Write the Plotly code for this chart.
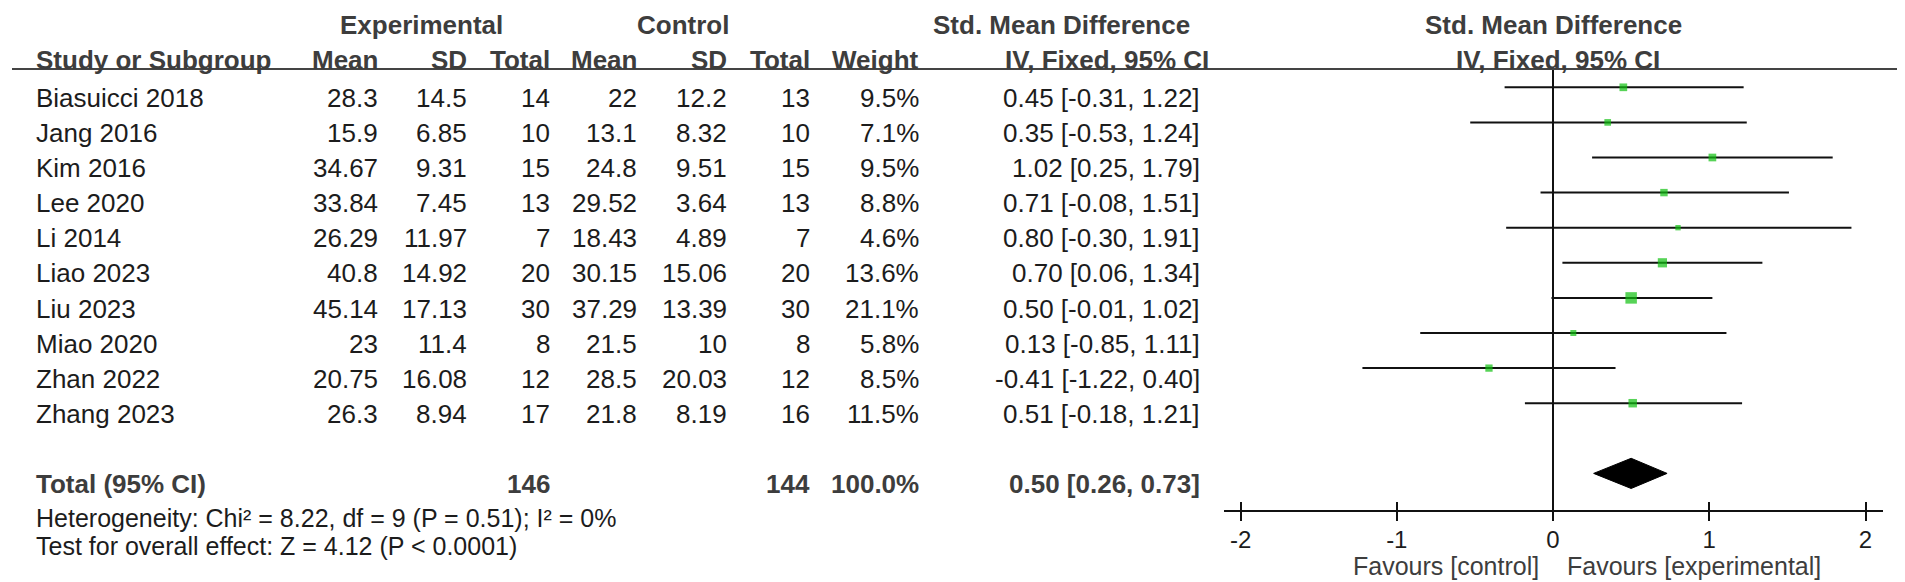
import plotly.graph_objects as go

W, H = 1905, 582

studies = ["Biasuicci 2018", "Jang 2016", "Kim 2016", "Lee 2020", "Li 2014",
           "Liao 2023", "Liu 2023", "Miao 2020", "Zhan 2022", "Zhang 2023"]
exp_mean = [28.3, 15.9, 34.67, 33.84, 26.29, 40.8, 45.14, 23, 20.75, 26.3]
exp_sd = [14.5, 6.85, 9.31, 7.45, 11.97, 14.92, 17.13, 11.4, 16.08, 8.94]
exp_n = [14, 10, 15, 13, 7, 20, 30, 8, 12, 17]
ctl_mean = [22, 13.1, 24.8, 29.52, 18.43, 30.15, 37.29, 21.5, 28.5, 21.8]
ctl_sd = [12.2, 8.32, 9.51, 3.64, 4.89, 15.06, 13.39, 10, 20.03, 8.19]
ctl_n = [13, 10, 15, 13, 7, 20, 30, 8, 12, 16]
weight = [9.5, 7.1, 9.5, 8.8, 4.6, 13.6, 21.1, 5.8, 8.5, 11.5]
smd = [0.45, 0.35, 1.02, 0.71, 0.80, 0.70, 0.50, 0.13, -0.41, 0.51]
ci_lo = [-0.31, -0.53, 0.25, -0.08, -0.30, 0.06, -0.01, -0.85, -1.22, -0.18]
ci_hi = [1.22, 1.24, 1.79, 1.51, 1.91, 1.34, 1.02, 1.11, 0.40, 1.21]

total_exp_n = 146
total_ctl_n = 144
total_weight = 100.0
total_smd = 0.50
total_lo = 0.26
total_hi = 0.73

heterogeneity = "Heterogeneity: Chi² = 8.22, df = 9 (P = 0.51); I² = 0%"
overall = "Test for overall effect: Z = 4.12 (P < 0.0001)"

tick_vals = [-2, -1, 0, 1, 2]
tick_text = ["-2", "-1", "0", "1", "2"]

# ---------------- layout helpers ----------------
FONT = "Liberation Sans, Arial, sans-serif"
BODY = "#1c1c1c"
HEAD = "#3d3d3d"
ROW0, ROWSTEP = 79.3, 35.1          # pixel y of first CI line, row step
TEXT_OFF = 10.7                     # text centre below CI line
TOTAL_ROW = 11


def px(x):
    return x / W


def py(y):
    return 1 - y / H


def row_text_y(i):
    return ROW0 + ROWSTEP * i + TEXT_OFF


annotations = []


def txt(x, y, s, anchor="right", bold=False, size=26, color=None):
    annotations.append(dict(
        x=px(x), y=py(y), xref="paper", yref="paper", text=("<b>%s</b>" % s) if bold else s,
        showarrow=False, xanchor=anchor, yanchor="middle", borderpad=0,
        font=dict(family=FONT, size=size, color=color or (HEAD if bold else BODY)),
    ))


def fmt(v):
    return f"{v:g}"


# headers
txt(413, 17, "Experimental", "center", True)
txt(675, 17, "Control", "center", True)
txt(1053, 17, "Std. Mean Difference", "center", True)
txt(1545, 17, "Std. Mean Difference", "center", True)
HY = 52
txt(27, HY, "Study or Subgroup", "left", True)
col_x = [371, 460, 543, 630, 720, 803, 912]
for x, s in zip(col_x, ["Mean", "SD", "Total", "Mean", "SD", "Total", "Weight"]):
    txt(x, HY, s, "right", True)
txt(1099, HY, "IV, Fixed, 95% CI", "center", True)
txt(1550, HY, "IV, Fixed, 95% CI", "center", True)

CI_X = 1193
for i, name in enumerate(studies):
    y = row_text_y(i)
    txt(27, y, name, "left")
    vals = [fmt(exp_mean[i]), fmt(exp_sd[i]), str(exp_n[i]), fmt(ctl_mean[i]),
            fmt(ctl_sd[i]), str(ctl_n[i]), f"{weight[i]:.1f}%"]
    for x, s in zip(col_x, vals):
        txt(x, y, s, "right")
    txt(CI_X, y, f"{smd[i]:.2f} [{ci_lo[i]:.2f}, {ci_hi[i]:.2f}]", "right")

ty = row_text_y(TOTAL_ROW)
txt(27, ty, "Total (95% CI)", "left", True)
txt(col_x[2], ty, str(total_exp_n), "right", True)
txt(col_x[5], ty, str(total_ctl_n), "right", True)
txt(col_x[6], ty, f"{total_weight:.1f}%", "right", True)
txt(CI_X, ty, f"{total_smd:.2f} [{total_lo:.2f}, {total_hi:.2f}]", "right", True)
txt(27, 510, heterogeneity, "left", size=25)
txt(27, 538, overall, "left", size=25)
txt(1532, 558, "Favours [control]", "right", size=25, color=HEAD)
txt(1558, 558, "Favours [experimental]", "left", size=25, color=HEAD)

# ---------------- traces ----------------
rows = list(range(len(studies)))
line_x, line_y = [], []
for i in rows:
    line_x += [ci_lo[i], ci_hi[i], None]
    line_y += [i, i, None]

fig = go.Figure()
fig.add_trace(go.Scatter(x=line_x, y=line_y, mode="lines",
                         line=dict(color="#111111", width=2), hoverinfo="skip",
                         showlegend=False))
fig.add_trace(go.Scatter(x=smd, y=rows, mode="markers",
                         marker=dict(symbol="square", color="#0fc00f",
                                     size=[2.5 * w ** 0.5 for w in weight],
                                     line=dict(width=0)),
                         showlegend=False))
dh = 0.43
fig.add_trace(go.Scatter(
    x=[total_lo, total_smd, total_hi, total_smd, total_lo],
    y=[TOTAL_ROW, TOTAL_ROW - dh, TOTAL_ROW, TOTAL_ROW + dh, TOTAL_ROW],
    mode="lines", fill="toself", fillcolor="#000000",
    line=dict(color="#000000", width=1), showlegend=False, hoverinfo="skip"))
# invisible trace for the inner-tick axis
fig.add_trace(go.Scatter(x=[0], y=[0], xaxis="x2", yaxis="y", mode="markers",
                         marker=dict(opacity=0), showlegend=False, hoverinfo="skip"))

# axis geometry (pixels)
ax_left, ax_right = 1216, 1875
x_range = [-2.106, 2.112]
top_px, bot_px = 61, 502
y_range = [(bot_px - ROW0) / ROWSTEP, (top_px - ROW0) / ROWSTEP]

fig.update_layout(
    width=W, height=H, margin=dict(l=0, r=0, t=0, b=0),
    paper_bgcolor="white", plot_bgcolor="white",
    xaxis=dict(domain=[px(ax_left), px(ax_right)], range=x_range,
               showgrid=False, zeroline=True, zerolinecolor="#111111", zerolinewidth=2,
               showline=True, linecolor="#111111", linewidth=2,
               ticks="outside", ticklen=9, tickwidth=2, tickcolor="#111111",
               tickvals=tick_vals, ticktext=tick_text,
               tickfont=dict(family=FONT, size=24, color=BODY),
               ticklabelstandoff=-2),
    xaxis2=dict(domain=[px(ax_left), px(ax_right)], range=x_range, overlaying="x",
                anchor="y", side="bottom", showgrid=False, zeroline=False,
                showline=False, ticks="inside", ticklen=8, tickwidth=2,
                tickcolor="#111111", tickvals=tick_vals, showticklabels=False),
    yaxis=dict(domain=[py(bot_px), py(top_px)], range=y_range, visible=False),
    annotations=annotations,
    shapes=[dict(type="line", xref="paper", yref="paper",
                 x0=px(4), x1=px(1900), y0=py(61), y1=py(61),
                 line=dict(color="#444444", width=2))],
)

fig.write_html("out.html")
